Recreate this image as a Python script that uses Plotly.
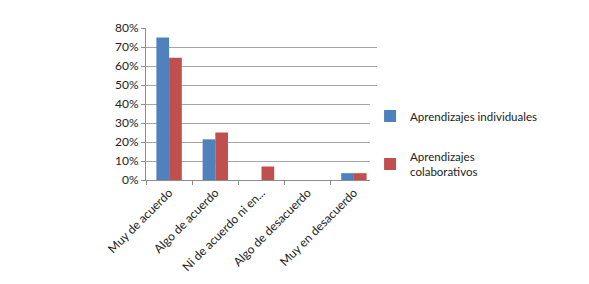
import plotly.graph_objects as go

categories = ["Muy de acuerdo", "Algo de acuerdo", "Ni de acuerdo ni en...", "Algo de desacuerdo", "Muy en desacuerdo"]
individuales = [0.75, 0.214, 0.0, 0.0, 0.036]
colaborativos = [0.643, 0.25, 0.071, 0.0, 0.036]
y_ticks = [0, 0.1, 0.2, 0.3, 0.4, 0.5, 0.6, 0.7, 0.8]

font = "Lato, Carlito, 'Open Sans', sans-serif"

fig = go.Figure()
fig.add_trace(go.Bar(x=categories, y=individuales, name="Aprendizajes individuales",
                     marker=dict(color="#4F81BD", line=dict(width=0)), legendgroup="a"))
fig.add_trace(go.Bar(x=categories, y=colaborativos, name="Aprendizajes<br>colaborativos",
                     marker=dict(color="#C0504D", line=dict(width=0)), legendgroup="b"))

fig.update_layout(
    width=589, height=284,
    margin=dict(l=138, r=220, t=16, b=112),
    paper_bgcolor="white", plot_bgcolor="white",
    barmode="group", bargap=0.45, bargroupgap=0,
    font=dict(family=font, size=11, color="#333333"),
    legend=dict(x=0.97, y=0.24, xanchor="left", yanchor="middle",
                font=dict(size=11.5, color="#222222"), tracegroupgap=22,
                itemwidth=30, traceorder="grouped"),
    xaxis=dict(tickangle=-45, ticks="outside", tickson="boundaries", ticklen=4,
               tickcolor="#8c8c8c", showline=True, linecolor="#8c8c8c", linewidth=1,
               tickfont=dict(size=12, color="#222222")),
    yaxis=dict(range=[0, 0.8], tickvals=y_ticks, tickformat=".0%", ticks="outside",
               ticklen=4, tickcolor="#8c8c8c", showline=True, linecolor="#8c8c8c",
               gridcolor="#a6a6a6", gridwidth=1, zeroline=False,
               tickfont=dict(size=12, color="#222222")),
)
fig.write_html("out.html")
